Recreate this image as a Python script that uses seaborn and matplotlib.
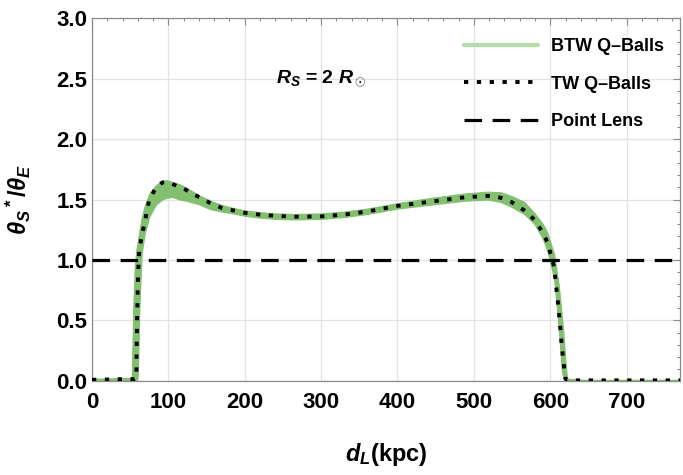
import matplotlib
matplotlib.use("Agg")
import matplotlib.pyplot as plt
from matplotlib.ticker import MultipleLocator
from matplotlib.lines import Line2D
import numpy as np
import seaborn as sns

# lens distance (kpc)
d_L = [0, 20, 40, 52, 53, 54, 56, 58, 59, 60, 61, 62, 65, 69, 75, 84, 92, 98,
       105, 115, 123, 140, 155, 170, 185, 200, 220, 240, 265, 300, 330, 360,
       400, 440, 488, 518, 535, 549, 566, 579, 590, 596, 605, 611, 615, 617,
       620, 622, 640, 700, 770]
# TW Q-balls (dotted)
tw = [0.01, 0.012, 0.015, 0.015, 0.015, 0.015, 0.015, 0.02, 0.5, 0.8, 1.0, 1.08,
      1.2, 1.31, 1.50, 1.60, 1.64, 1.645, 1.63, 1.60, 1.58, 1.52, 1.47, 1.43,
      1.41, 1.39, 1.375, 1.365, 1.358, 1.36, 1.375, 1.40, 1.447, 1.48, 1.518,
      1.53, 1.515, 1.48, 1.41, 1.335, 1.23, 1.15, 0.945, 0.59, 0.30, 0.17,
      0.02, 0.005, 0.005, 0.005, 0.005]
# BTW Q-balls band
btw_hi = [0.02, 0.02, 0.025, 0.025, 0.3, 0.6, 0.95, 1.08, 1.12, 1.16, 1.2, 1.24,
          1.35, 1.45, 1.55, 1.62, 1.655, 1.66, 1.645, 1.625, 1.60, 1.535, 1.49,
          1.455, 1.43, 1.41, 1.395, 1.385, 1.38, 1.385, 1.40, 1.425, 1.47, 1.51,
          1.55, 1.565, 1.56, 1.53, 1.48, 1.39, 1.30, 1.23, 1.05, 0.80, 0.55,
          0.42, 0.15, 0.02, 0.01, 0.01, 0.01]
btw_lo = [0.0, 0.0, 0.0, 0.0, 0.0, 0.0, 0.0, 0.0, 0.0, 0.05, 0.3, 0.6, 1.05,
          1.22, 1.36, 1.46, 1.50, 1.515, 1.52, 1.50, 1.49, 1.46, 1.42, 1.40,
          1.385, 1.365, 1.35, 1.34, 1.335, 1.34, 1.355, 1.38, 1.425, 1.455,
          1.49, 1.50, 1.48, 1.44, 1.38, 1.30, 1.18, 1.08, 0.85, 0.45, 0.10,
          0.02, 0.0, 0.0, 0.0, 0.0, 0.0]
point_lens = 1.0

sns.set_style("white")
plt.rcParams['font.family'] = ['Liberation Sans', 'DejaVu Sans']
plt.rcParams['font.weight'] = 'bold'
plt.rcParams['text.color'] = 'black'
plt.rcParams['axes.labelcolor'] = 'black'
plt.rcParams['mathtext.fontset'] = 'custom'
plt.rcParams['mathtext.it'] = 'Liberation Sans:italic:bold'
plt.rcParams['mathtext.rm'] = 'Liberation Sans:bold'
plt.rcParams['mathtext.bf'] = 'Liberation Sans:bold'

fig = plt.figure(figsize=(6.83, 4.75), dpi=100)
ax = fig.add_axes([0.1347, 0.198, 0.861, 0.764])

band_col = '#82c06f'
ax.fill_between(d_L, btw_lo, btw_hi, color=band_col, lw=0.8, edgecolor=band_col, zorder=2)
sns.lineplot(x=d_L, y=tw, ax=ax, color='black', lw=2.8, sort=False, estimator=None,
             linestyle=(0, (1.1, 2.2)), zorder=3)
ax.axhline(point_lens, color='black', lw=2.3, linestyle=(0, (5.5, 3.3)), zorder=3)

ax.set_xlim(0, 770)
ax.set_ylim(0, 3.0)
ax.xaxis.set_major_locator(MultipleLocator(100))
ax.xaxis.set_minor_locator(MultipleLocator(20))
ax.yaxis.set_major_locator(MultipleLocator(0.5))
ax.yaxis.set_minor_locator(MultipleLocator(0.1))
ax.yaxis.set_major_formatter(matplotlib.ticker.FormatStrFormatter('%.1f'))
ax.grid(True, which='major', color='#e3e3e3', lw=0.9, zorder=0)
for s in ax.spines.values():
    s.set_color('#8a8a8a')
    s.set_linewidth(0.9)
ax.tick_params(which='both', direction='in', top=True, right=True, colors='#8a8a8a',
               labelcolor='black', labelsize=16, width=0.8)
ax.tick_params(which='major', length=5)
ax.tick_params(which='minor', length=2.5)
ax.tick_params(axis='x', pad=8)
for lab in ax.get_xticklabels() + ax.get_yticklabels():
    lab.set_fontweight('bold')

ax.set_xlabel(r'$d_L$(kpc)', fontsize=17, fontweight='bold', labelpad=20, color='black')
ax.set_ylabel(r'$\theta_S{}^*/\theta_E$', fontsize=17, fontweight='bold', labelpad=17,
              color='black')

ax.text(0.39, 0.835, r'$R_S$ = 2 $R_\odot$', transform=ax.transAxes, fontsize=14,
        fontweight='bold', ha='center', va='center', color='black')

handles = [Line2D([], [], color='#b3dba8', lw=3),
           Line2D([], [], color='black', lw=2.8, linestyle=(0, (1.1, 2.2))),
           Line2D([], [], color='black', lw=2.3, linestyle=(0, (5.5, 3.3)))]
leg = ax.legend(handles, ['BTW Q\u2013Balls', 'TW Q\u2013Balls', 'Point Lens'],
                loc='upper right', bbox_to_anchor=(1.0, 0.99), frameon=False,
                prop={'weight': 'bold', 'size': 13}, handlelength=4.1,
                labelspacing=1.15, handletextpad=0.7)
for t in leg.get_texts():
    t.set_color('black')

fig.savefig('out.png', dpi=100)
